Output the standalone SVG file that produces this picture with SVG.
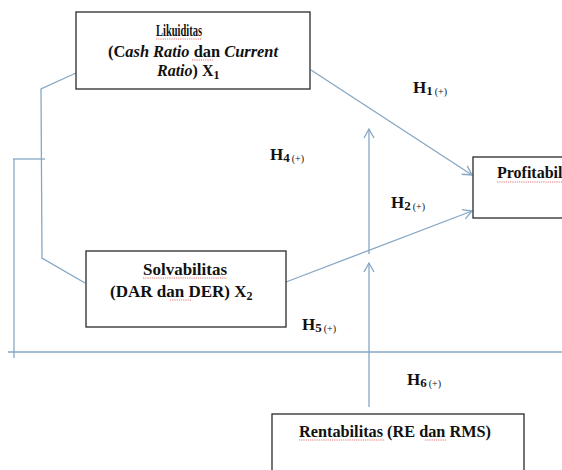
<svg xmlns="http://www.w3.org/2000/svg" width="562" height="470" viewBox="0 0 562 470">
<style>
.box{fill:#fff;stroke:#2a2a2a;stroke-width:1.3}
text{font-family:'Liberation Serif','Times New Roman',Tinos,serif}
.t{font-weight:bold;font-size:16px;fill:#111}
.t17{font-size:17px}
.i{font-style:italic}
.c{fill:none;stroke:#86a7c4;stroke-width:1.3}
.h{fill:#111}
.hb{font-weight:bold;font-size:17px}
.hs{font-weight:bold;font-size:13px}
.hp{font-size:10px}
.sub{font-size:12px}
.sp{fill:none;stroke:#e05050;stroke-width:0.8;stroke-dasharray:1.2 1}
</style>
<defs>
<marker id="arr" markerUnits="userSpaceOnUse" markerWidth="14" markerHeight="14" viewBox="-11 -7 14 14" refX="0" refY="0" orient="auto">
<path d="M-9,-5 L0,0 L-9,5" fill="none" stroke="#86a7c4" stroke-width="1.3"/>
</marker>
</defs>
<g id="connectors">
<line class="c" x1="311" y1="70" x2="472" y2="175" marker-end="url(#arr)"/>
<line class="c" x1="286" y1="282" x2="472" y2="211" marker-end="url(#arr)"/>
<line class="c" x1="369" y1="254" x2="369" y2="129" marker-end="url(#arr)"/>
<line class="c" x1="369" y1="407" x2="369" y2="263" marker-end="url(#arr)"/>
<polyline class="c" points="76,73 41,89 42,258 85,283"/>
<line class="c" x1="13" y1="159" x2="45" y2="159"/>
<line class="c" x1="14" y1="159" x2="14" y2="358"/>
<line class="c" x1="8" y1="352" x2="562" y2="352"/>
</g>
<g id="likuiditas">
<rect class="box" x="76" y="12" width="234" height="77"/>
<text class="t t17" x="156" y="36" textLength="46" lengthAdjust="spacingAndGlyphs">Likuiditas</text>
<text class="t" x="108" y="57" textLength="170" lengthAdjust="spacingAndGlyphs">(C<tspan class="i">ash Ratio</tspan> dan <tspan class="i">Current</tspan></text>
<text class="t" x="157" y="76"><tspan class="i">Ratio</tspan>) X<tspan class="sub" dy="3">1</tspan></text>
<path class="sp" d="M156,39 H202 M192,60 H213"/>
</g>
<g id="solvabilitas">
<rect class="box" x="86" y="251" width="200" height="76"/>
<text class="t t17" x="143" y="275" textLength="84" lengthAdjust="spacingAndGlyphs">Solvabilitas</text>
<text class="t t17" x="110" y="297">(DAR dan DER) X<tspan class="sub" dy="3">2</tspan></text>
<path class="sp" d="M143,278 H227 M170,300 H192"/>
</g>
<g id="profitabilitas">
<rect class="box" x="473" y="157" width="140" height="61"/>
<text class="t" x="497" y="178">Profitabil</text>
<path class="sp" d="M497,182 H562"/>
</g>
<g id="rentabilitas">
<rect class="box" x="272" y="414" width="252" height="70"/>
<text class="t" x="299" y="437" textLength="192" lengthAdjust="spacingAndGlyphs">Rentabilitas (RE dan RMS)</text>
<path class="sp" d="M299,440 H385 M425,440 H446"/>
</g>
<g id="labels">
<text class="h" x="413" y="93"><tspan class="hb">H</tspan><tspan class="hs" dy="2">1</tspan><tspan class="hp" dx="2">(+)</tspan></text>
<text class="h" x="270" y="160"><tspan class="hb">H</tspan><tspan class="hs" dy="2">4</tspan><tspan class="hp" dx="2">(+)</tspan></text>
<text class="h" x="391" y="208"><tspan class="hb">H</tspan><tspan class="hs" dy="2">2</tspan><tspan class="hp" dx="2">(+)</tspan></text>
<text class="h" x="302" y="330"><tspan class="hb">H</tspan><tspan class="hs" dy="2">5</tspan><tspan class="hp" dx="2">(+)</tspan></text>
<text class="h" x="407" y="385"><tspan class="hb">H</tspan><tspan class="hs" dy="2">6</tspan><tspan class="hp" dx="2">(+)</tspan></text>
</g>
</svg>
